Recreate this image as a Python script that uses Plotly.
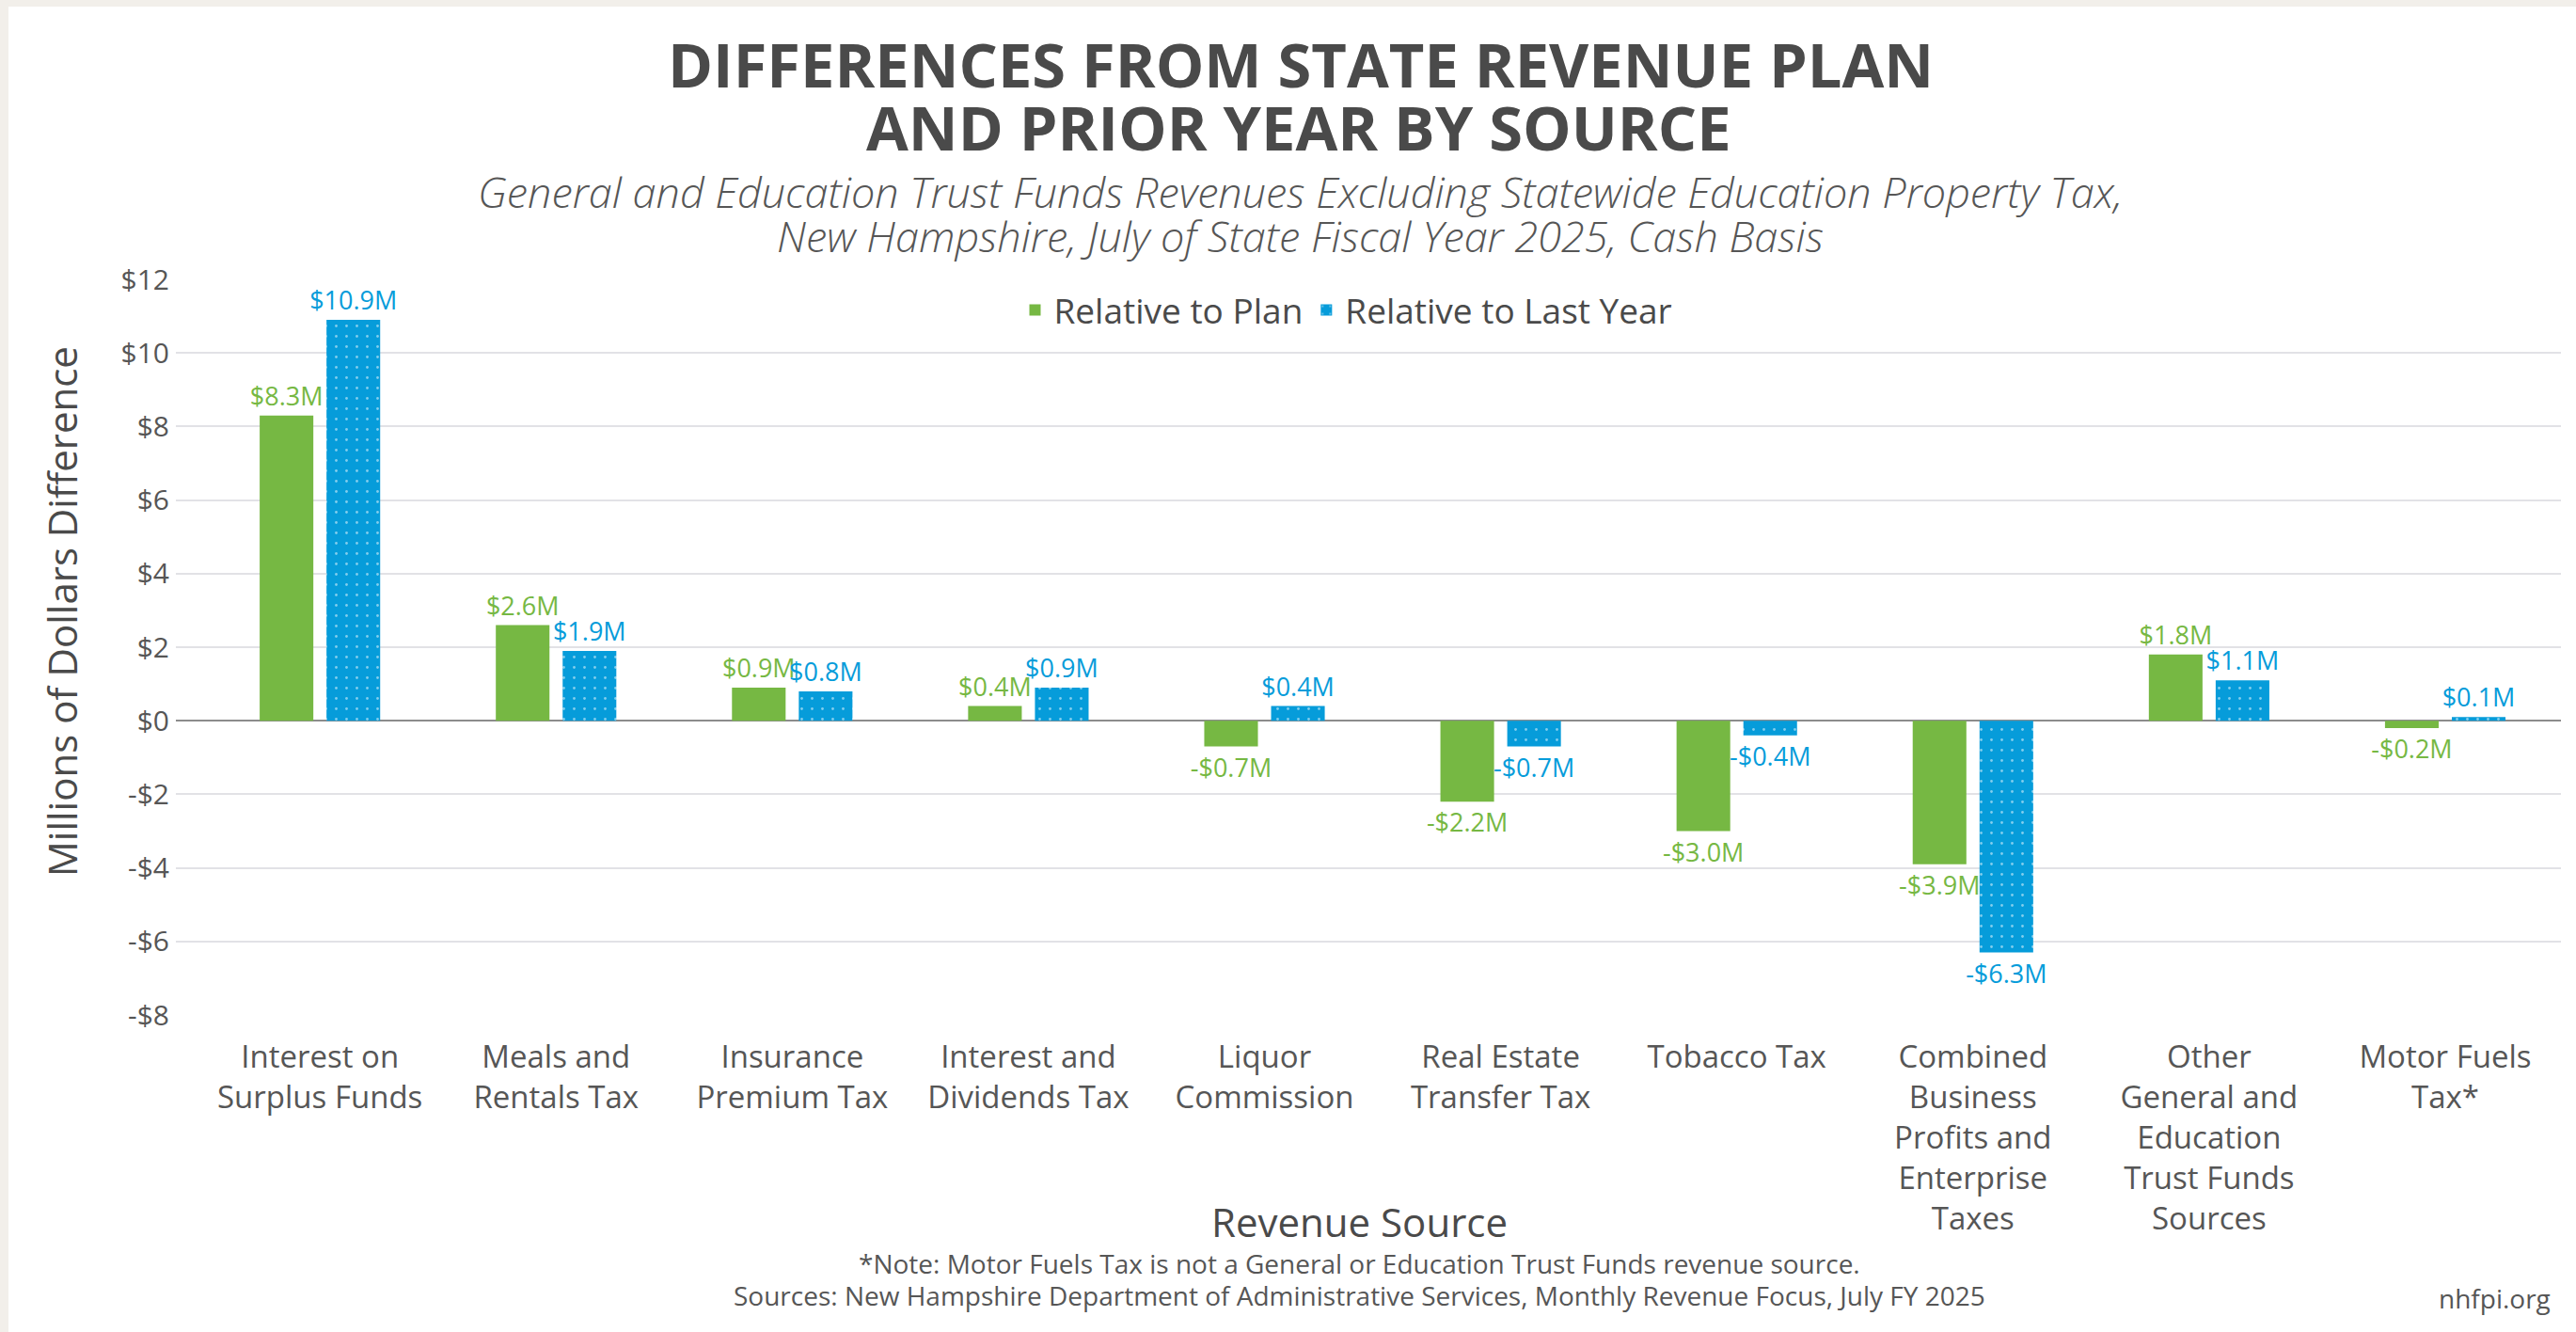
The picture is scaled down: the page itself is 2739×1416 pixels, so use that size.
import plotly.graph_objects as go

categories = [
    "Interest on<br>Surplus Funds",
    "Meals and<br>Rentals Tax",
    "Insurance<br>Premium Tax",
    "Interest and<br>Dividends Tax",
    "Liquor<br>Commission",
    "Real Estate<br>Transfer Tax",
    "Tobacco Tax",
    "Combined<br>Business<br>Profits and<br>Enterprise<br>Taxes",
    "Other<br>General and<br>Education<br>Trust Funds<br>Sources",
    "Motor Fuels<br>Tax*",
]
relative_to_plan = [8.3, 2.6, 0.9, 0.4, -0.7, -2.2, -3.0, -3.9, 1.8, -0.2]
relative_to_last_year = [10.9, 1.9, 0.8, 0.9, 0.4, -0.7, -0.4, -6.3, 1.1, 0.1]
series_names = ["Relative to Plan", "Relative to Last Year"]
y_tick_values = [12, 10, 8, 6, 4, 2, 0, -2, -4, -6, -8]
y_tick_labels = ["$12", "$10", "$8", "$6", "$4", "$2", "$0", "-$2", "-$4", "-$6", "-$8"]

GREEN = "#76B843"
BLUE = "#069CDA"
DARK = "#4A4A4A"
MID = "#565656"
FONT = "Open Sans"

W, H = 2739, 1416
L, R, T, B = 187, 16, 297, 337
PW, PH = W - L - R, H - T - B


def px(x):
    return (x - L) / PW


def py(y):
    return (H - B - y) / PH


def money(v):
    return f"-${abs(v):.1f}M" if v < 0 else f"${v:.1f}M"


fig = go.Figure()
fig.add_trace(go.Bar(
    name=series_names[0], x=categories, y=relative_to_plan,
    marker=dict(color=GREEN, line=dict(width=0)),
    text=[money(v) for v in relative_to_plan], textposition="outside",
    textfont=dict(color=GREEN, size=27, family=FONT),
    constraintext="none", cliponaxis=False,
))
fig.add_trace(go.Bar(
    name=series_names[1], x=categories, y=relative_to_last_year,
    marker=dict(color=BLUE, line=dict(width=0),
                pattern=dict(shape=".", fgcolor="white", bgcolor=BLUE,
                             size=11, solidity=0.05, fillmode="overlay")),
    text=[money(v) for v in relative_to_last_year], textposition="outside",
    textfont=dict(color=BLUE, size=27, family=FONT),
    constraintext="none", cliponaxis=False,
))

annotations = [
    dict(text="<b>DIFFERENCES FROM STATE REVENUE PLAN</b>", x=px(1383), y=py(68),
         font=dict(size=65, color=DARK, family=FONT)),
    dict(text="<b>AND PRIOR YEAR BY SOURCE</b>", x=px(1381), y=py(135),
         font=dict(size=65, color=DARK, family=FONT)),
    dict(text="<i>General and Education Trust Funds Revenues Excluding Statewide Education Property Tax,</i>",
         x=px(1382), y=py(203), font=dict(size=45, color=MID, family=FONT, weight=300)),
    dict(text="<i>New Hampshire, July of State Fiscal Year 2025, Cash Basis</i>",
         x=px(1382), y=py(250), font=dict(size=45, color=MID, family=FONT, weight=300)),
    dict(text="Millions of Dollars Difference", x=px(65), y=py(650), textangle=-90,
         font=dict(size=42, color=DARK, family=FONT, weight=500)),
    dict(text="Revenue Source", x=px(1445), y=py(1298),
         font=dict(size=42, color=DARK, family=FONT, weight=500)),
    dict(text="*Note: Motor Fuels Tax is not a General or Education Trust Funds revenue source.",
         x=px(1445), y=py(1343), font=dict(size=28, color=MID, family=FONT)),
    dict(text="Sources: New Hampshire Department of Administrative Services, Monthly Revenue Focus, July FY 2025",
         x=px(1445), y=py(1377), font=dict(size=28, color=MID, family=FONT)),
    dict(text="nhfpi.org", x=px(2714), y=py(1380), xanchor="right",
         font=dict(size=28, color=MID, family=FONT)),
]
for a in annotations:
    a.setdefault("xanchor", "center")
    a.update(xref="paper", yref="paper", yanchor="middle", showarrow=False)

fig.update_layout(
    width=W, height=H,
    margin=dict(l=L, r=R, t=T, b=B, autoexpand=False),
    paper_bgcolor="#F2EFEA",
    plot_bgcolor="white",
    barmode="group", bargap=0.434, bargroupgap=0.197,
    font=dict(family=FONT, color=MID),
    showlegend=True,
    legend=dict(orientation="h", x=px(1432), xanchor="center", y=py(330), yanchor="middle",
                bgcolor="rgba(0,0,0,0)", font=dict(size=37, color=DARK, family=FONT),
                itemwidth=30),
    annotations=annotations,
    shapes=[dict(type="rect", xref="paper", yref="paper", layer="below",
                 x0=px(9), x1=px(W + 5), y0=py(7), y1=py(H + 5),
                 fillcolor="white", line=dict(width=0))],
    xaxis=dict(range=[-0.61, 9.49], showgrid=False, zeroline=False, showline=False,
               ticks="", ticklabelstandoff=22,
               tickfont=dict(size=33, color=MID, family=FONT), automargin=False),
    yaxis=dict(range=[-8, 12], tickvals=y_tick_values, ticktext=y_tick_labels,
               showgrid=True, gridcolor="#E2E2E6", gridwidth=2,
               zeroline=True, zerolinecolor="#8C8C8C", zerolinewidth=2,
               showline=False, ticks="", ticklabelstandoff=6,
               tickfont=dict(size=30, color=MID, family=FONT), automargin=False),
)

fig.write_html("out.html", config={"displayModeBar": False},
               post_script="document.body.style.margin='0';document.body.style.overflow='hidden';")
